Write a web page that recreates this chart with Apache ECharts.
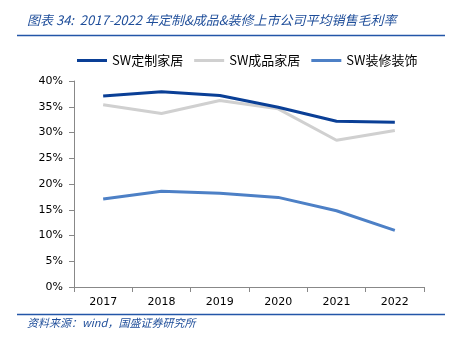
<!DOCTYPE html>
<html><head><meta charset="utf-8">
<script src="https://cdn.jsdelivr.net/npm/echarts@6/dist/echarts.min.js"></script>
<style>html,body{margin:0;padding:0;background:#fff}#c{width:454px;height:342px}</style>
</head><body><div id="c"></div>
<script>
const categories = ['2017','2018','2019','2020','2021','2022'];
const customHome = [37.1, 37.9, 37.2, 34.9, 32.2, 32.0];
const finishedHome = [35.4, 33.7, 36.2, 34.6, 28.5, 30.4];
const decoration = [17.1, 18.6, 18.2, 17.4, 14.8, 11.0];
const seriesNames = ['SW定制家居', 'SW成品家居', 'SW装修装饰'];
const colors = ['#0A3F96', '#D0D0D0', '#4D80C6'];
const titleText = '图表 34:  2017-2022 年定制&成品&装修上市公司平均销售毛利率';
const sourceText = '资料来源：wind，国盛证券研究所';

const chart = echarts.init(document.getElementById('c'), null, {renderer:'canvas'});
const font = 'DejaVu Sans, Verdana, sans-serif';
chart.setOption({
  animation:false,
  grid:{left:74, right:30, top:81, bottom:55},
  legend:{
    top:49, left:72, itemWidth:30, itemHeight:3, itemGap:11,
    icon:'rect',
    textStyle:{fontSize:13, color:'#000', fontFamily:'Noto Sans CJK SC, DejaVu Sans, sans-serif'},
    data:seriesNames
  },
  xAxis:{
    type:'category', data:categories, boundaryGap:true,
    axisLine:{lineStyle:{color:'#888'}},
    axisTick:{show:true, lineStyle:{color:'#888'}, length:5},
    axisLabel:{fontSize:11, color:'#000', fontFamily:font, margin:10}
  },
  yAxis:{
    type:'value', min:0, max:40, interval:5,
    axisLine:{show:true, lineStyle:{color:'#888'}},
    axisTick:{show:true, lineStyle:{color:'#888'}, length:5},
    splitLine:{show:false},
    axisLabel:{fontSize:11, color:'#000', fontFamily:font, formatter:'{value}%', margin:11}
  },
  series:[
    {name:seriesNames[0], type:'line', data:customHome, symbol:'none', lineStyle:{width:3, color:colors[0]}, itemStyle:{color:colors[0]}, z:3},
    {name:seriesNames[1], type:'line', data:finishedHome, symbol:'none', lineStyle:{width:3, color:colors[1]}, itemStyle:{color:colors[1]}, z:2},
    {name:seriesNames[2], type:'line', data:decoration, symbol:'none', lineStyle:{width:3, color:colors[2]}, itemStyle:{color:colors[2]}, z:2}
  ],
  graphic:[
    {type:'text', left:27, top:14, style:{text:titleText, fill:'#1F4E9A', font:'italic 13px "Noto Sans CJK SC", sans-serif'}},
    {type:'line', shape:{x1:17, y1:35.5, x2:445, y2:35.5}, style:{stroke:'#2356A8', lineWidth:1.5}},
    {type:'line', shape:{x1:17, y1:314.5, x2:445, y2:314.5}, style:{stroke:'#2356A8', lineWidth:1.5}},
    {type:'text', left:27, top:317, style:{text:sourceText, fill:'#1F4E9A', font:'italic 11px "Noto Sans CJK SC", sans-serif'}}
  ]
});
</script></body></html>
